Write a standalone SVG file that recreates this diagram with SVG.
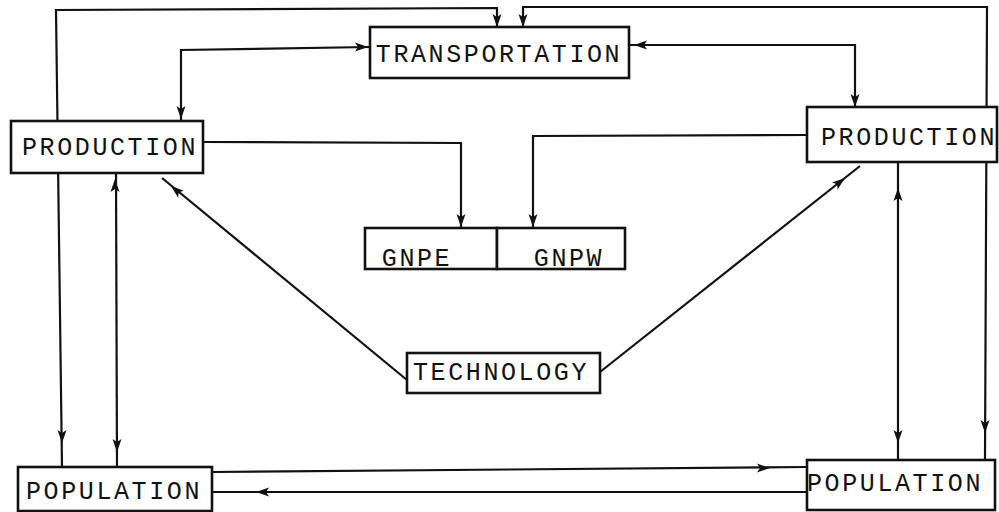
<svg xmlns="http://www.w3.org/2000/svg" width="999" height="512" viewBox="0 0 999 512">
<style>
.box{fill:#fff;stroke:#111;stroke-width:2.6}
.ln{fill:none;stroke:#111;stroke-width:2.2}
.t{font-family:"Liberation Mono","DejaVu Sans Mono",monospace;font-size:25px;letter-spacing:2.6px;fill:#111;text-anchor:middle}
</style>
<defs>
<path id="ah" d="M0,0 L-13,-4.5 L-10,0 L-13,4.5 Z" fill="#111"/>
</defs>
<rect width="999" height="512" fill="#fff"/>
<g id="connectors">
<path class="ln" d="M62,467 L56,10 L497,8 L497,27"/>
<path class="ln" d="M523,27 L523,7 L987,7 L985,460"/>
<path class="ln" d="M181,121 L181,50 L370,47"/>
<path class="ln" d="M629,45 L855,45 L855,108"/>
<path class="ln" d="M203,142 L461,143 L461,228"/>
<path class="ln" d="M807,135 L533,136 L533,228"/>
<path class="ln" d="M407,380 L162,178"/>
<path class="ln" d="M600,372 L860,166"/>
<path class="ln" d="M116,173 L117,467"/>
<path class="ln" d="M898,162 L898,460"/>
<path class="ln" d="M212,472 L807,467"/>
<path class="ln" d="M807,492 L212,492"/>
<use href="#ah" transform="translate(497,27) rotate(90)"/>
<use href="#ah" transform="translate(523,27) rotate(90)"/>
<use href="#ah" transform="translate(62,443) rotate(90)"/>
<use href="#ah" transform="translate(985,433) rotate(90)"/>
<use href="#ah" transform="translate(368,47) rotate(0)"/>
<use href="#ah" transform="translate(181,119) rotate(90)"/>
<use href="#ah" transform="translate(634,45) rotate(180)"/>
<use href="#ah" transform="translate(855,107) rotate(90)"/>
<use href="#ah" transform="translate(461,227) rotate(90)"/>
<use href="#ah" transform="translate(533,227) rotate(90)"/>
<use href="#ah" transform="translate(171,186) rotate(219.5)"/>
<use href="#ah" transform="translate(845,178) rotate(-38.4)"/>
<use href="#ah" transform="translate(115,179) rotate(-90)"/>
<use href="#ah" transform="translate(117,452) rotate(90)"/>
<use href="#ah" transform="translate(898,188) rotate(-90)"/>
<use href="#ah" transform="translate(898,443) rotate(90)"/>
<use href="#ah" transform="translate(770,468) rotate(0)"/>
<use href="#ah" transform="translate(256,492) rotate(180)"/>
</g>
<g id="transportation">
<rect class="box" x="370" y="27" width="259" height="51"/>
<text class="t" x="499" y="62">TRANSPORTATION</text>
</g>
<g id="production-left">
<rect class="box" x="11" y="121" width="192" height="52"/>
<text class="t" x="110" y="155">PRODUCTION</text>
</g>
<g id="production-right">
<rect class="box" x="807" y="107" width="190" height="55"/>
<text class="t" x="909" y="145">PRODUCTION</text>
</g>
<g id="gnpe">
<rect class="box" x="365" y="228" width="132" height="41"/>
<text class="t" x="417" y="266">GNPE</text>
</g>
<g id="gnpw">
<rect class="box" x="497" y="228" width="128" height="41"/>
<text class="t" x="569" y="266">GNPW</text>
</g>
<g id="technology">
<rect class="box" x="407" y="353" width="193" height="40"/>
<text class="t" x="501" y="380">TECHNOLOGY</text>
</g>
<g id="population-left">
<rect class="box" x="18" y="467" width="194" height="44"/>
<text class="t" x="114" y="499">POPULATION</text>
</g>
<g id="population-right">
<rect class="box" x="807" y="460" width="188" height="50"/>
<text class="t" x="895" y="491">POPULATION</text>
</g>
</svg>
